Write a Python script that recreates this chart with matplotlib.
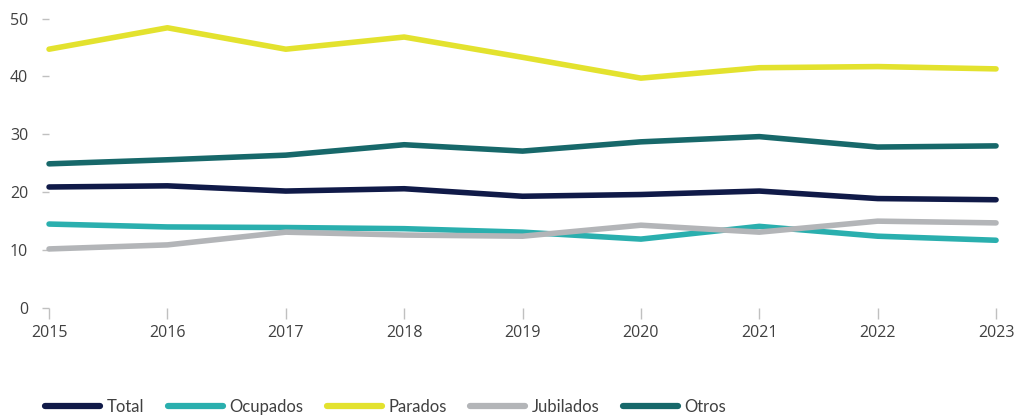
import matplotlib.pyplot as plt

years = [2015, 2016, 2017, 2018, 2019, 2020, 2021, 2022, 2023]
total = [20.9, 21.1, 20.2, 20.6, 19.3, 19.6, 20.2, 18.9, 18.7]
ocupados = [14.5, 14.0, 13.9, 13.7, 13.1, 11.9, 14.1, 12.4, 11.7]
parados = [44.7, 48.4, 44.7, 46.8, 43.3, 39.7, 41.5, 41.7, 41.3]
jubilados = [10.2, 10.9, 13.1, 12.6, 12.4, 14.3, 13.1, 15.0, 14.7]
otros = [24.9, 25.6, 26.4, 28.2, 27.1, 28.7, 29.6, 27.8, 28.0]

series = [
    ('Total', total, '#101a48'),
    ('Ocupados', ocupados, '#2aafae'),
    ('Parados', parados, '#e3e22e'),
    ('Jubilados', jubilados, '#b3b5b8'),
    ('Otros', otros, '#17686a'),
]

plt.rcParams['font.family'] = ['Open Sans', 'DejaVu Sans']

fig = plt.figure(figsize=(10.26, 4.17), dpi=100)
ax = fig.add_axes([0.0478, 0.2614, 0.9230, 0.6942])

for name, vals, color in series:
    ax.plot(years, vals, color=color, lw=4, solid_capstyle='round',
            solid_joinstyle='round', label=name, clip_on=False)

ax.set_xlim(2015, 2023)
ax.set_ylim(0, 50)
ax.set_xticks(years)
ax.set_yticks([0, 10, 20, 30, 40, 50])
for s in ax.spines.values():
    s.set_visible(False)
ax.tick_params(axis='x', length=8, width=1, color='#c0c0c0', pad=4,
               labelsize=11.5, labelcolor='#404040')
ax.tick_params(axis='y', length=5, width=1, color='#c0c0c0', pad=10,
               labelsize=11.5, labelcolor='#404040')

leg = fig.legend(loc='center left', bbox_to_anchor=(0.044, 10 / 417), ncol=5,
                 frameon=False, borderpad=0, borderaxespad=0,
                 handlelength=3.3, handletextpad=0.4,
                 columnspacing=1.4, labelcolor='#404040',
                 prop={'family': ['Lato', 'DejaVu Sans'], 'size': 12})
for h in leg.legend_handles:
    h.set_linewidth(4.5)

fig.savefig('out.png', dpi=100)
